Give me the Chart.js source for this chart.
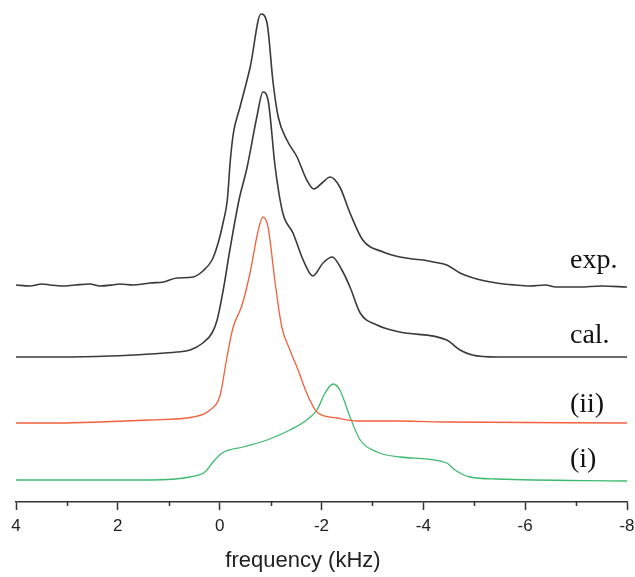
<!DOCTYPE html>
<html>
<head>
<meta charset="utf-8">
<script src="https://cdn.jsdelivr.net/npm/chart.js@4/dist/chart.umd.min.js"></script>
<style>
  html, body { margin:0; padding:0; background:#fff; }
  #wrap { width:635px; height:577px; }
</style>
</head>
<body>
<div id="wrap"><canvas id="c" width="635" height="577"></canvas></div>
<script>
// frequency (kHz) and intensity above each trace's own baseline
const expFreq = [4.0, 3.73, 3.49, 3.33, 3.10, 2.84, 2.55, 2.35, 2.10, 1.96, 1.70, 1.50, 1.37, 1.10, 0.84, 0.52, 0.33, 0.15, 0.03, -0.07, -0.15, -0.21, -0.27, -0.40, -0.60, -0.81, -0.93, -1.05, -1.15, -1.32, -1.52, -1.71, -1.85, -2.01, -2.17, -2.36, -2.56, -2.81, -3.21, -3.54, -3.80, -3.99, -4.20, -4.46, -4.72, -5.05, -5.44, -5.80, -6.09, -6.40, -6.6, -7.07, -7.5, -8.0];
const expVals = [0, -1, 1, 0, -1, 0, 1, -1, 0, 1, 0, 1, 2, 3, 7, 8, 14, 25, 42, 63, 85, 125, 152, 178, 218, 271, 262, 202, 168, 145, 128, 105, 96, 102, 108, 98, 72, 45, 33, 28, 26, 25, 23, 20, 12, 6, 2, 0, -1, 0, -2, -2, -1, -2];

const calFreq = [4.0, 3.14, 2.15, 1.37, 0.84, 0.58, 0.33, 0.15, 0.05, -0.07, -0.20, -0.38, -0.54, -0.73, -0.85, -0.95, -1.09, -1.24, -1.44, -1.64, -1.83, -2.03, -2.21, -2.40, -2.56, -2.76, -3.09, -3.54, -4.46, -4.72, -4.96, -5.45, -8.0];
const calVals = [0, 0, 1, 3, 5, 7, 14, 24, 37, 67, 107, 157, 190, 240, 265, 257, 190, 144, 124, 97, 81, 94, 100, 87, 70, 44, 32, 25, 17, 7, 2, 0, 0];

const iiFreq = [4.0, 3.14, 2.35, 1.37, 0.52, 0.19, -0.01, -0.14, -0.26, -0.44, -0.60, -0.75, -0.85, -0.95, -1.09, -1.22, -1.38, -1.54, -1.71, -1.91, -2.30, -2.70, -3.54, -4.46, -8.0];
const iiVals = [-1, -1, 0, 2, 5, 12, 27, 64, 94, 117, 150, 190, 205, 195, 139, 95, 72, 52, 29, 10, 4, 1, 1, 0, -1];

const iFreq = [4.0, 2.15, 1.37, 0.58, 0.29, 0.13, -0.05, -0.46, -0.93, -1.38, -1.71, -1.91, -2.07, -2.23, -2.36, -2.56, -2.76, -3.09, -3.54, -4.46, -4.62, -4.92, -5.45, -8.0];
const iVals = [0, 0, 0, 3, 8, 18, 27, 33, 40, 50, 60, 70, 87, 96, 90, 63, 40, 28, 23, 17, 10, 3, 1, -1];

// vertical offsets of the stacked traces
const offsets = { exp: 217, cal: 145, ii: 80, i: 22 };

const traceLabels = ['exp.', 'cal.', '(ii)', '(i)'];
const labelY = [234, 159, 90, 35];
const labelX = -6.88;

const xTicks = [4, 2, 0, -2, -4, -6, -8];
const xMinor = [3, 1, -1, -3, -5, -7];

function pts(fr, vals, off) {
  return fr.map((f, k) => ({ x: f, y: vals[k] + off }));
}

const extras = {
  id: 'extras',
  afterDraw(chart) {
    const ctx = chart.ctx;
    const xs = chart.scales.x, ys = chart.scales.y;
    const bottom = chart.chartArea.bottom;
    ctx.save();
    // minor ticks
    ctx.strokeStyle = '#333';
    ctx.lineWidth = 1.5;
    xMinor.forEach(v => {
      const px = Math.round(xs.getPixelForValue(v)) + 0.5;
      ctx.beginPath();
      ctx.moveTo(px, bottom);
      ctx.lineTo(px, bottom + 4);
      ctx.stroke();
    });
    // trace labels
    ctx.fillStyle = '#111';
    ctx.font = '28px "Liberation Serif", "DejaVu Serif", serif';
    ctx.textAlign = 'left';
    ctx.textBaseline = 'alphabetic';
    traceLabels.forEach((t, k) => {
      ctx.fillText(t, xs.getPixelForValue(labelX), ys.getPixelForValue(labelY[k]));
    });
    // axis title
    ctx.fillStyle = '#222';
    ctx.font = '22px "Liberation Sans", Arial, sans-serif';
    ctx.textAlign = 'center';
    ctx.fillText('frequency (kHz)', 303, 567);
    ctx.restore();
  }
};

new Chart(document.getElementById('c'), {
  type: 'scatter',
  data: {
    datasets: [
      { label: 'exp.', data: pts(expFreq, expVals, offsets.exp), borderColor: '#3a3a3a', borderWidth: 1.6 },
      { label: 'cal.', data: pts(calFreq, calVals, offsets.cal), borderColor: '#3a3a3a', borderWidth: 1.6 },
      { label: '(ii)', data: pts(iiFreq, iiVals, offsets.ii), borderColor: '#f2603c', borderWidth: 1.3 },
      { label: '(i)', data: pts(iFreq, iVals, offsets.i), borderColor: '#3dba6f', borderWidth: 1.3 }
    ].map(d => Object.assign(d, { showLine: true, pointRadius: 0, cubicInterpolationMode: 'monotone', fill: false }))
  },
  options: {
    responsive: false,
    animation: false,
    layout: { padding: { left: 16, right: 8, top: 0, bottom: 0 } },
    plugins: { legend: { display: false }, tooltip: { enabled: false } },
    scales: {
      x: {
        type: 'linear',
        reverse: true,
        min: -8, max: 4,
        afterBuildTicks: s => { s.ticks = xTicks.map(v => ({ value: v })); },
        afterFit: s => { s.height = 75; s.paddingLeft = 0; s.paddingRight = 0; },
        grid: { drawOnChartArea: false, tickLength: 8, tickColor: '#333', tickWidth: 1.5 },
        border: { color: '#333', width: 1.5 },
        ticks: { color: '#222', padding: 6, font: { family: '"Liberation Sans", Arial, sans-serif', size: 17 } }
      },
      y: { display: false, min: 0, max: 502 }
    }
  },
  plugins: [extras]
});
</script>
</body>
</html>
